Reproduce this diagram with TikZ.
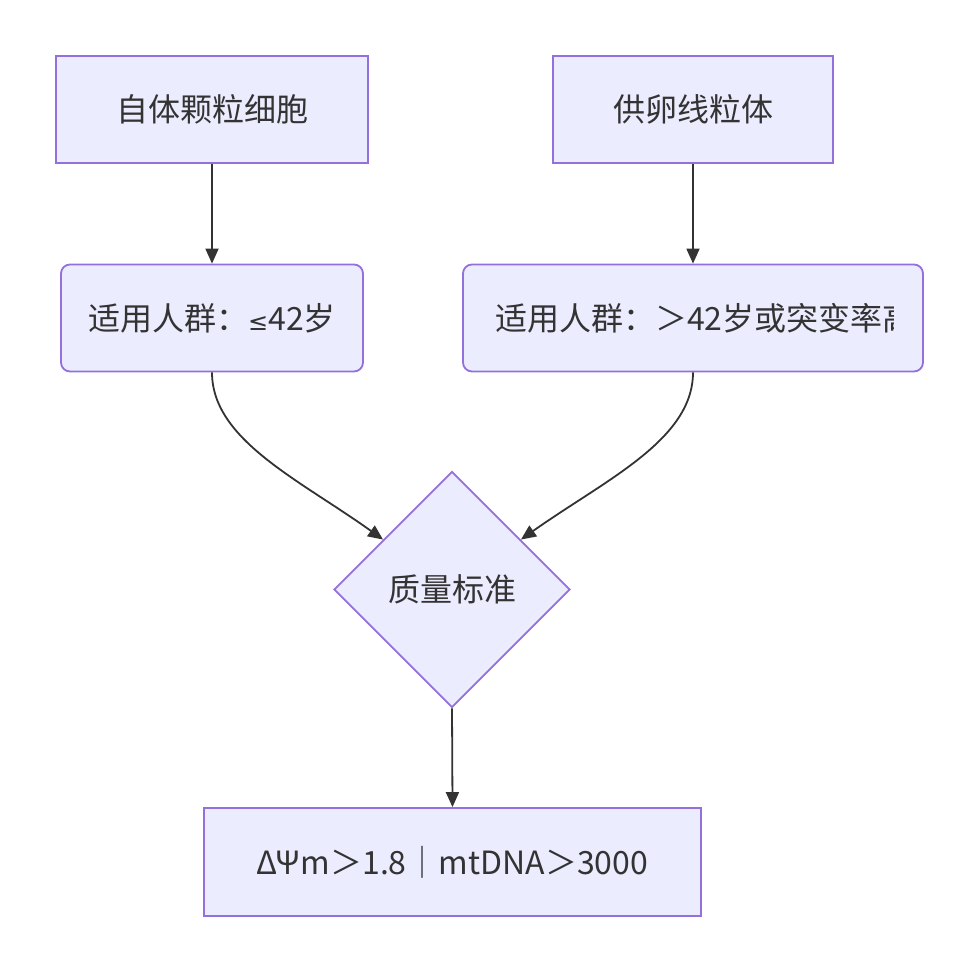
\documentclass[tikz,border=0pt]{standalone}
\usepackage{fontspec}
\setmainfont{Noto Sans CJK SC}
\newfontfamily\symfont{DejaVu Sans}
\usepackage{xcolor}
\definecolor{BoxFill}{HTML}{ECECFF}
\definecolor{BoxLine}{HTML}{9370DB}
\definecolor{LinkColor}{HTML}{333333}
\usetikzlibrary{positioning, shapes.geometric, arrows.meta, calc}

\begin{document}
\begin{tikzpicture}[
    x=1pt, y=-1pt,
    font=\fontsize{32}{38}\selectfont,
    box/.style={rectangle, draw=BoxLine, fill=BoxFill, line width=1.8pt, minimum height=107pt, align=center, text=LinkColor},
    roundbox/.style={box, rounded corners=9pt},
    choice/.style={diamond, draw=BoxLine, fill=BoxFill, line width=1.8pt, aspect=1, minimum size=236pt, inner sep=0pt, text=LinkColor},
    arrow/.style={-{Triangle[length=15pt, width=13pt]}, draw=LinkColor, line width=1.8pt},
]
\useasboundingbox (0,0) rectangle (979,972);

% Sources
\node[box, minimum width=312pt] (granulosa) at (212,109.5) {自体颗粒细胞};
\node[box, minimum width=280pt] (donor) at (693,109.5) {供卵线粒体};

% Target groups
\node[roundbox, minimum width=302pt] (young) at (212,318) {适用人群：{\symfont\fontsize{24}{30}\selectfont ≤}42岁};
\node[roundbox, minimum width=460pt] (old) at (693,318) {};
\begin{scope}
  \clip (478,270) rectangle (893,366);
  \node[anchor=west, inner sep=0pt, text=LinkColor] (oldtext) at (495,318) {适用人群：＞42岁或突变率高};
\end{scope}

% Decision
\node[choice] (quality) at (452,589.5) {质量标准};

% Result
\node[box, minimum width=497pt, minimum height=108pt] (result) at (452.5,862) {ΔΨm＞1.8｜mtDNA＞3000};

% Arrows
\coordinate (qleft) at ($(quality.west)!0.42!(quality.north)$);
\coordinate (qright) at ($(quality.east)!0.42!(quality.north)$);
\draw[arrow] (granulosa) -- (young);
\draw[arrow] (donor) -- (old);
\draw[arrow] (young.south) .. controls (212,440) and (300,480) .. (qleft);
\draw[arrow] (old.south) .. controls (693,440) and (605,480) .. (qright);
\draw[arrow] (quality.south) -- (result.north);

\end{tikzpicture}
\end{document}
